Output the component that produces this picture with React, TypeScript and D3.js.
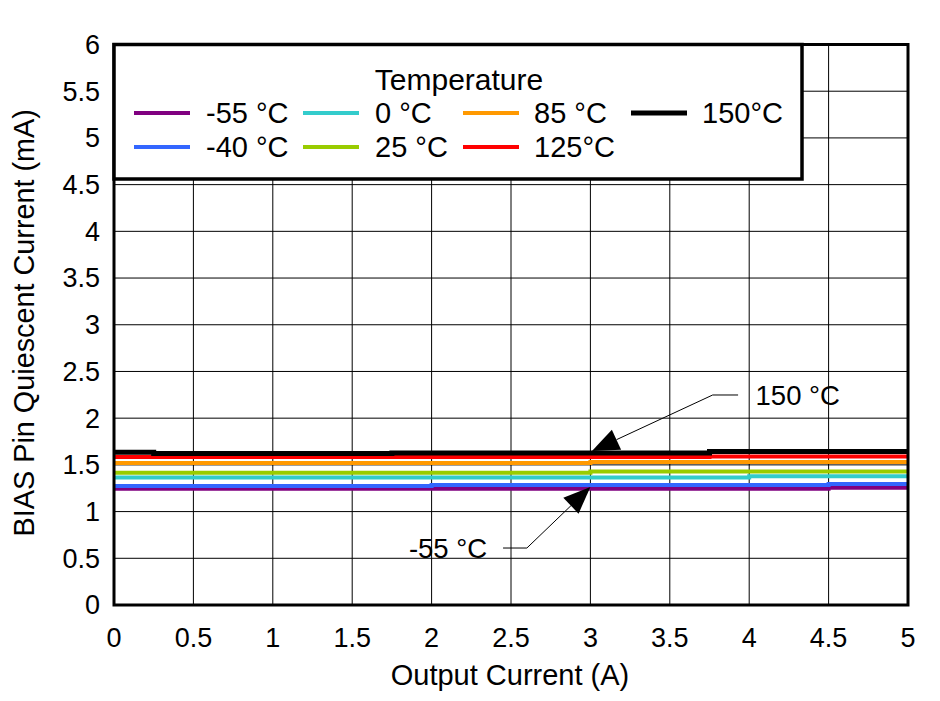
import React from "react";
import * as d3 from "d3";

const xTicks = [0, 0.5, 1, 1.5, 2, 2.5, 3, 3.5, 4, 4.5, 5];
const yTicks = [0, 0.5, 1, 1.5, 2, 2.5, 3, 3.5, 4, 4.5, 5, 5.5, 6];

const seriesNames = ["-55 °C", "-40 °C", "0 °C", "25 °C", "85 °C", "125°C", "150°C"];
const seriesColors = ["#800080", "#3366FF", "#33CCCC", "#99CC00", "#FF9900", "#FF0000", "#000000"];

const xM55 = [0, 4.5, 5];
const yM55 = [1.245, 1.255, 1.255];
const xM40 = [0, 2.0, 4.5, 5];
const yM40 = [1.275, 1.285, 1.295, 1.295];
const x0 = [0, 4.0, 5];
const y0 = [1.365, 1.378, 1.378];
const x25 = [0, 3.0, 5];
const y25 = [1.415, 1.43, 1.43];
const x85 = [0, 3.0, 5];
const y85 = [1.52, 1.53, 1.53];
const x125 = [0, 3.75, 5];
const y125 = [1.585, 1.59, 1.59];
const x150 = [0, 0.25, 1.75, 3.75, 5];
const y150 = [1.635, 1.622, 1.628, 1.642, 1.642];

const seriesX = [xM55, xM40, x0, x25, x85, x125, x150];
const seriesY = [yM55, yM40, y0, y25, y85, y125, y150];

// annotations in data coordinates
const ann150 = { tip: [3.01, 1.648], elbow: [3.77, 2.248], end: [3.93, 2.248], text: "150 °C", textX: 4.04 };
const annM55 = { tip: [3.0, 1.263], elbow: [2.6, 0.61], end: [2.45, 0.61], text: "-55 °C", textX: 2.35 };

const W = 940, H = 701;
const L = 114, R = 908, T = 44.5, B = 605;
const FONT = "'Liberation Sans', Arial, sans-serif";

export default function App() {
  const x = d3.scaleLinear().domain([0, 5]).range([L, R]);
  const y = d3.scaleLinear().domain([0, 6]).range([B, T]);

  const line = d3
    .line<[number, number]>()
    .x((d) => x(d[0]))
    .y((d) => y(d[1]))
    .curve(d3.curveStepAfter);

  const arrowHead = (tip: number[], from: number[]) => {
    const tx = x(tip[0]), ty = y(tip[1]);
    const fx = x(from[0]), fy = y(from[1]);
    const dx = fx - tx, dy = fy - ty;
    const len = Math.hypot(dx, dy);
    const ux = dx / len, uy = dy / len;
    const bl = 27, hw = 11;
    const bx = tx + ux * bl, by = ty + uy * bl;
    const px = -uy, py = ux;
    return {
      poly: `${tx},${ty} ${bx + px * hw},${by + py * hw} ${bx - px * hw},${by - py * hw}`,
      bx,
      by,
    };
  };

  const annotations = [ann150, annM55].map((a, i) => {
    const ah = arrowHead(a.tip, a.elbow);
    return (
      <g key={i}>
        <polyline
          points={`${ah.bx},${ah.by} ${x(a.elbow[0])},${y(a.elbow[1])} ${x(a.end[0])},${y(a.end[1])}`}
          fill="none"
          stroke="#000"
          strokeWidth={1}
        />
        <polygon points={ah.poly} fill="#000" />
        <text
          x={x(a.textX)}
          y={y(a.elbow[1])}
          dy="0.35em"
          textAnchor={i === 0 ? "start" : "end"}
          fontSize={27.5}
          fontFamily={FONT}
        >
          {a.text}
        </text>
      </g>
    );
  });

  const legendCols = [134, 303, 463, 631];
  const legendRows = [113, 147];
  const legendTextX = [206, 375, 534, 702];
  const legendOrder = [
    [0, 0, 0], [1, 0, 1], [2, 1, 0], [3, 1, 1], [4, 2, 0], [5, 2, 1], [6, 3, 0],
  ];

  return (
    <svg
      width={W}
      height={H}
      style={{ position: "absolute", left: 0, top: 0, background: "#fff" }}
    >
      <rect x={0} y={0} width={W} height={H} fill="#fff" />
      {/* grid */}
      {xTicks.map((t) => (
        <line key={"gx" + t} x1={x(t)} x2={x(t)} y1={T} y2={B} stroke="#000" strokeWidth={1} />
      ))}
      {yTicks.map((t) => (
        <line key={"gy" + t} x1={L} x2={R} y1={y(t)} y2={y(t)} stroke="#000" strokeWidth={1} />
      ))}
      {/* series */}
      {seriesX.map((xs, i) => {
        const pts: [number, number][] = xs.map((v, j) => [v, seriesY[i][j]]);
        return (
          <path
            key={"s" + i}
            d={line(pts) || ""}
            fill="none"
            stroke={seriesColors[i]}
            strokeWidth={i === 6 ? 5 : 4}
          />
        );
      })}
      {/* frame */}
      <rect x={L} y={T} width={R - L} height={B - T} fill="none" stroke="#000" strokeWidth={3} />
      {/* legend */}
      <rect x={L} y={T} width={802 - L} height={179 - T} fill="#fff" stroke="#000" strokeWidth={3.5} />
      <text x={459} y={79} dy="0.35em" textAnchor="middle" fontSize={30} fontFamily={FONT}>
        Temperature
      </text>
      {legendOrder.map(([si, c, r]) => (
        <g key={"lg" + si}>
          <line
            x1={legendCols[c]}
            x2={legendCols[c] + 56}
            y1={legendRows[r]}
            y2={legendRows[r]}
            stroke={seriesColors[si]}
            strokeWidth={si === 6 ? 5 : 4}
          />
          <text x={legendTextX[c]} y={legendRows[r]} dy="0.35em" fontSize={29} fontFamily={FONT}>
            {seriesNames[si]}
          </text>
        </g>
      ))}
      {annotations}
      {/* tick labels */}
      {yTicks.map((t) => (
        <text key={"ty" + t} x={100} y={y(t)} dy="0.35em" textAnchor="end" fontSize={27} fontFamily={FONT}>
          {t}
        </text>
      ))}
      {xTicks.map((t) => (
        <text key={"tx" + t} x={x(t)} y={638} dy="0.35em" textAnchor="middle" fontSize={27} fontFamily={FONT}>
          {t}
        </text>
      ))}
      {/* axis titles */}
      <text x={510} y={675} dy="0.35em" textAnchor="middle" fontSize={29} fontFamily={FONT}>
        Output Current (A)
      </text>
      <text
        transform={`translate(24, ${(T + B) / 2 - 2}) rotate(-90)`}
        dy="0.35em"
        textAnchor="middle"
        fontSize={28.8}
        fontFamily={FONT}
      >
        BIAS Pin Quiescent Current (mA)
      </text>
    </svg>
  );
}
